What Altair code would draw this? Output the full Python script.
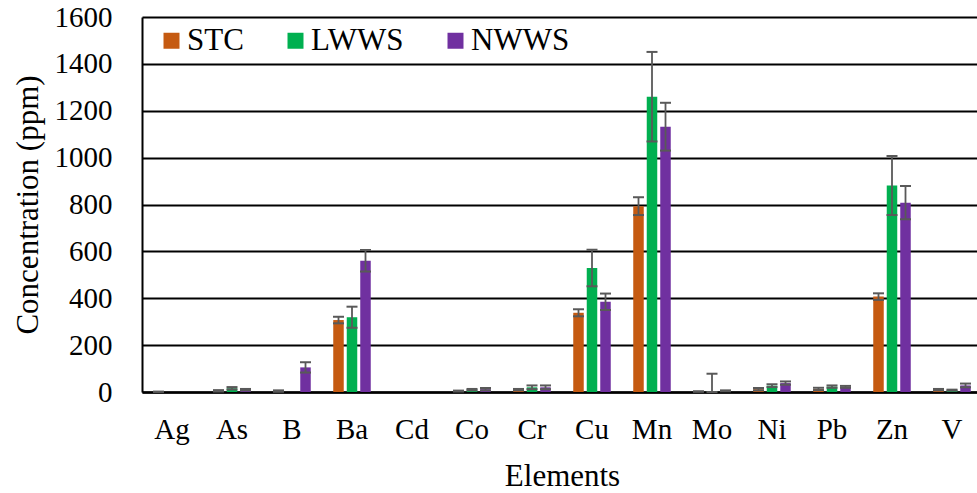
import altair as alt
import pandas as pd

# Element categories and measurement series
elements = ["Ag", "As", "B", "Ba", "Cd", "Co", "Cr", "Cu", "Mn", "Mo", "Ni", "Pb", "Zn", "V"]
series = ["STC", "LWWS", "NWWS"]
colors = ["#C55A11", "#00B050", "#7030A0"]

# Mean concentrations (ppm) and their error magnitudes
stc = [1, 5, 4, 307, 0, 4, 10, 338, 793, 2, 12, 13, 407, 10]
stc_err = [0.5, 3, 3, 14, 0, 2, 3, 15, 38, 1, 5, 5, 14, 3]
lwws = [0, 16, 0, 319, 0, 10, 20, 529, 1260, 3, 27, 23, 881, 8]
lwws_err = [0, 5, 0, 45, 0, 3, 8, 78, 191, 75, 6, 5, 126, 2]
nwws = [0, 10, 105, 560, 0, 12, 20, 385, 1132, 5, 38, 22, 808, 28]
nwws_err = [0, 3, 22, 46, 0, 5, 8, 35, 102, 2, 7, 4, 71, 8]

rows = []
for name, vals, errs in [("STC", stc, stc_err), ("LWWS", lwws, lwws_err), ("NWWS", nwws, nwws_err)]:
    for el, v, e in zip(elements, vals, errs):
        rows.append({"Element": el, "Series": name, "Value": v, "Err": e,
                     "Lo": max(v - e, 0), "Hi": v + e})
df = pd.DataFrame(rows)

FONT = "Liberation Serif"

x_enc = alt.X(
    "Element:N",
    sort=elements,
    scale=alt.Scale(paddingInner=0, paddingOuter=0, range=[0, 840]),
    axis=alt.Axis(
        title="Elements", labelAngle=0, ticks=False, domainColor="black",
        domainWidth=2.5, labelFontSize=29, labelColor="black",
        labelPadding=23, titleFontSize=31, titleFontWeight="normal",
        titleColor="black", titlePadding=17,
    ),
)
xo_enc = alt.XOffset(
    "Series:N", sort=series,
    scale=alt.Scale(domain=series, paddingInner=0.222, paddingOuter=0.833),
)
y_scale = alt.Scale(domain=[0, 1600], nice=False)
y_axis = alt.Axis(
    title="Concentration (ppm)", values=list(range(0, 1601, 200)), format="d",
    ticks=False, domainColor="black", domainWidth=2, gridColor="black", gridWidth=1.8,
    labelFontSize=29, labelColor="black", labelPadding=30,
    titleFontSize=31, titleFontWeight="normal", titleColor="black",
    titlePadding=10,
)

base = alt.Chart(df)

bars = base.mark_bar().encode(
    x=x_enc,
    xOffset=xo_enc,
    y=alt.Y("Value:Q", scale=y_scale, axis=y_axis),
    color=alt.Color(
        "Series:N", sort=series,
        scale=alt.Scale(domain=series, range=colors),
        legend=alt.Legend(
            orient="none", legendX=14, legendY=8, direction="horizontal", title=None,
            symbolType="square", symbolSize=256, symbolStrokeWidth=0, symbolOpacity=1,
            labelFontSize=31, labelColor="black", labelOffset=0,
            columnPadding=36, padding=0,
        ),
    ),
)

err_src = base.transform_filter("datum.Err > 0")

err_rule = err_src.mark_rule(color="#595959", strokeWidth=1.8).encode(
    x=x_enc, xOffset=xo_enc, y=alt.Y("Lo:Q", scale=y_scale), y2="Hi:Q",
)
cap_lo = err_src.mark_tick(color="#595959", thickness=2, size=11, opacity=1).encode(
    x=x_enc, xOffset=xo_enc, y=alt.Y("Lo:Q", scale=y_scale),
)
cap_hi = err_src.mark_tick(color="#595959", thickness=2, size=11, opacity=1).encode(
    x=x_enc, xOffset=xo_enc, y=alt.Y("Hi:Q", scale=y_scale),
)

chart = (
    alt.layer(bars, err_rule, cap_lo, cap_hi)
    .properties(
        width=835, height=375,
        padding={"left": 142, "top": 17, "right": 0, "bottom": 101},
        autosize=alt.AutoSizeParams(type="none"),
        background="white",
    )
    .configure(font=FONT)
    .configure_axis(labelFont=FONT, titleFont=FONT)
    .configure_legend(labelFont=FONT)
    .configure_view(stroke=None)
)

chart.save("out.html", embed_options={"renderer": "svg", "actions": False})
